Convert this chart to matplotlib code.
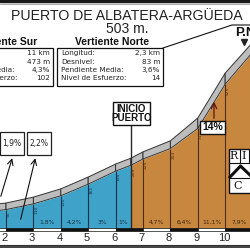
import numpy as np
import matplotlib.pyplot as plt
from matplotlib.patches import Rectangle, Polygon
from matplotlib.transforms import Affine2D, blended_transform_factory

# profile: km from the start of the south side, altitude in m
km = [1, 2, 3, 4, 5, 6, 6.56, 7, 8, 9, 10, 11]
alt = [88, 95, 110, 131, 161, 194, 209, 225, 253, 311, 425, 503]
# gradient written inside each segment (km[i] -> km[i+1])
seg_grad = ['', '', '1,8%', '4,2%', '3%', '1%', '', '4,7%', '6,4%', '11,1%', '7,9%']
km_ticks = [2, 3, 4, 5, 6, 7, 8, 9, 10]
start_km = 6.56
base_alt = 30

rows = ['Longitud:', 'Desnivel:', 'Pendiente Media:', 'Nivel de Esfuerzo:']
sur = ['11 km', '473 m', '4,3%', '102']
norte = ['2,3 km', '83 m', '3,6%', '14']
callouts = ['1,9%', '2,2%']
max_grad = '14%'

NARROW = ['Liberation Sans Narrow', 'Liberation Sans', 'DejaVu Sans']
BLUE, ORANGE, ROAD, INK = '#3fa2c8', '#c8873f', '#bdbdbd', '#2a2a2a'

fig = plt.figure(figsize=(2.5, 2.5), dpi=100)
ax = fig.add_axes([0, 0, 1, 1])
ax.axis('off')
PX, PY = 27.4, 2.54          # px per km, m per px
ax.set_xlim(2 - 6 / PX, 2 + 244 / PX)
ax.set_ylim(311 - 132 * PY, 311 + 118 * PY)
pix = Affine2D().scale(1 / 250, -1 / 250).translate(0, 1) + ax.transAxes
bt = blended_transform_factory(ax.transData, pix)

k = np.array(km, float)
a = np.array(alt, float)
slope = np.diff(a) / PY / (np.diff(k) * PX)
v = 6.5 * np.sqrt(1 + slope ** 2)
vt = np.r_[v[0], (v[:-1] + v[1:]) / 2, v[-1]]
low = a - vt * PY

blue = k <= start_km
orange = k >= start_km
ax.fill_between(k[blue], base_alt, low[blue], color=BLUE, lw=0)
ax.fill_between(k[orange], base_alt, low[orange], color=ORANGE, lw=0)

# road band
for i in range(len(k) - 1):
    ax.add_patch(Polygon([(k[i], a[i]), (k[i + 1], a[i + 1]),
                          (k[i + 1], low[i + 1]), (k[i], low[i])],
                         fc=ROAD, ec='#333333', lw=0.7, zorder=3))

# km dividers + altitudes
for i, kk in enumerate(km):
    if kk not in km_ticks and kk != start_km:
        continue
    col = '#16334a' if kk < start_km else '#4e2c10'
    if kk == start_km:
        ax.plot([kk, kk], [125, 228.3], color=INK, lw=1.0, transform=bt, zorder=4)
    else:
        ax.vlines(kk, base_alt, low[i], color=col, lw=0.8, zorder=2)
    ax.text(kk + 1.0 / PX, low[i] - 2 * PY, str(alt[i]), rotation=90,
            fontsize=3.2, color=col, ha='left', va='top', zorder=2)

for i, g in enumerate(seg_grad):
    if g:
        col = '#17303f' if km[i] < start_km else '#3b220c'
        ax.text((km[i] + km[i + 1]) / 2, 222.5, g, transform=bt, fontsize=4.3,
                color=col, ha='center', va='center')

# km scale bar
for kk in range(1, 11):
    ax.add_patch(Rectangle((kk, 228.3), 1, 2.8, transform=bt,
                           fc='#111111' if kk % 2 == 0 else 'white',
                           ec='#111111', lw=0.5, zorder=5))
for kk in km_ticks:
    ax.text(kk - 0.05, 238, str(kk), transform=bt, ha='center', va='center',
            fontsize=8, family=NARROW, color='#222222')

# frame lines
ax.plot([0, 250], [1, 1], color='#1a1a1a', lw=2.5, transform=pix)
ax.plot([0, 250], [3.8, 3.8], color='#888888', lw=0.5, transform=pix)
ax.plot([0, 250], [244.5, 244.5], color='#333333', lw=0.8, transform=pix)
ax.plot([0, 250], [246.8, 246.8], color='#333333', lw=1.3, transform=pix)

# title
ax.text(127, 15.5, 'PUERTO DE ALBATERA-ARGÜEDA', transform=pix, ha='center',
        va='center', fontsize=10.2, family='Liberation Sans', color='#222222')
ax.text(127, 29, '503 m.', transform=pix, ha='center', va='center',
        fontsize=10, family='Liberation Sans', color='#222222')

# data boxes
ax.text(37, 42, 'Vertiente Sur', transform=pix, ha='right', va='center',
        fontsize=7.5, fontweight='bold', family='Liberation Sans', color='#111111')
ax.text(112, 42, 'Vertiente Norte', transform=pix, ha='center', va='center',
        fontsize=7.5, fontweight='bold', family='Liberation Sans', color='#111111')
for x0, x1, vals in [(-52, 53, sur), (57, 163, norte)]:
    ax.add_patch(Rectangle((x0, 47.5), x1 - x0, 38.5, transform=pix,
                           fc='white', ec='#111111', lw=0.9))
    for j, (lab, val) in enumerate(zip(rows, vals)):
        y = 53 + j * 8.5
        ax.text(x0 + 4, y, lab, transform=pix, ha='left', va='center',
                fontsize=5.2, color='#222222')
        ax.text(x1 - 3, y, val, transform=pix, ha='right', va='center',
                fontsize=5.2, color='#222222')
ax.plot([163, 232, 252], [48, 25, 25], color='#111111', lw=0.8, transform=pix)

# summit mark
ax.text(235.5, 33, 'P.N.', transform=pix, ha='left', va='center', fontsize=9.5,
        fontweight='bold', family=NARROW, color='#111111')
ax.plot([244], [42], marker='v', ms=4, color='#222222', transform=pix)

# start of climb
ax.add_patch(Rectangle((113, 102), 37, 23, transform=pix, fc='white',
                       ec='#111111', lw=1.0, zorder=6))
ax.text(131.5, 113.5, 'INICIO\nPUERTO', transform=pix, ha='center', va='center',
        fontsize=7, fontweight='bold', family=NARROW, linespacing=0.95,
        color='#111111', zorder=7)

# steepest ramp
ax.add_patch(Rectangle((200, 121), 25, 12.5, transform=pix, fc='white',
                       ec='#111111', lw=1.0, zorder=6))
ax.text(212.5, 127.5, max_grad, transform=pix, ha='center', va='center',
        fontsize=7.5, fontweight='bold', family='Liberation Sans',
        color='#111111', zorder=7)
ax.annotate('', xy=(214, 99), xytext=(214, 121), xycoords=pix, textcoords=pix,
            arrowprops=dict(arrowstyle='->', color='#5a1410', lw=0.9), zorder=6)

# ramp callouts
for (bx, tip, foot), lab in zip([(0, 13, (0, 199)), (27, 36, (20, 222))], callouts):
    ax.add_patch(Rectangle((bx, 132), 24, 23, transform=pix, fc='white',
                           ec='#222222', lw=0.9, zorder=6))
    ax.text(bx + 12, 143.5, lab, transform=pix, ha='center', va='center',
            fontsize=5.5, color='#222222', zorder=7)
    ax.annotate('', xy=(tip, 155.5), xytext=foot, xycoords=pix, textcoords=pix,
                arrowprops=dict(arrowstyle='->', color='#111111', lw=0.8), zorder=6)

# logo
ax.add_patch(Rectangle((229, 149), 24, 44, transform=pix, fc='white',
                       ec='#111111', lw=1.0, zorder=6))
for yy in (163, 178):
    ax.plot([229, 253], [yy, yy], color='#111111', lw=0.8, transform=pix, zorder=7)
ax.plot([239.5, 239.5], [149, 163], color='#111111', lw=0.8, transform=pix, zorder=7)
ax.plot([248.5, 248.5], [149, 163], color='#111111', lw=0.8, transform=pix, zorder=7)
ax.text(234, 156, 'R', transform=pix, ha='center', va='center', fontsize=8,
        family='DejaVu Serif', color='#111111', zorder=8)
ax.text(244, 156, 'I', transform=pix, ha='center', va='center', fontsize=8,
        family='DejaVu Serif', color='#111111', zorder=8)
ax.plot([230, 240.5, 252], [177, 166, 177], color='#111111', lw=2.2,
        transform=pix, zorder=8)
ax.text(238, 186, 'C', transform=pix, ha='center', va='center', fontsize=8,
        family='DejaVu Serif', color='#111111', zorder=8)

fig.savefig('out.png', dpi=100)
